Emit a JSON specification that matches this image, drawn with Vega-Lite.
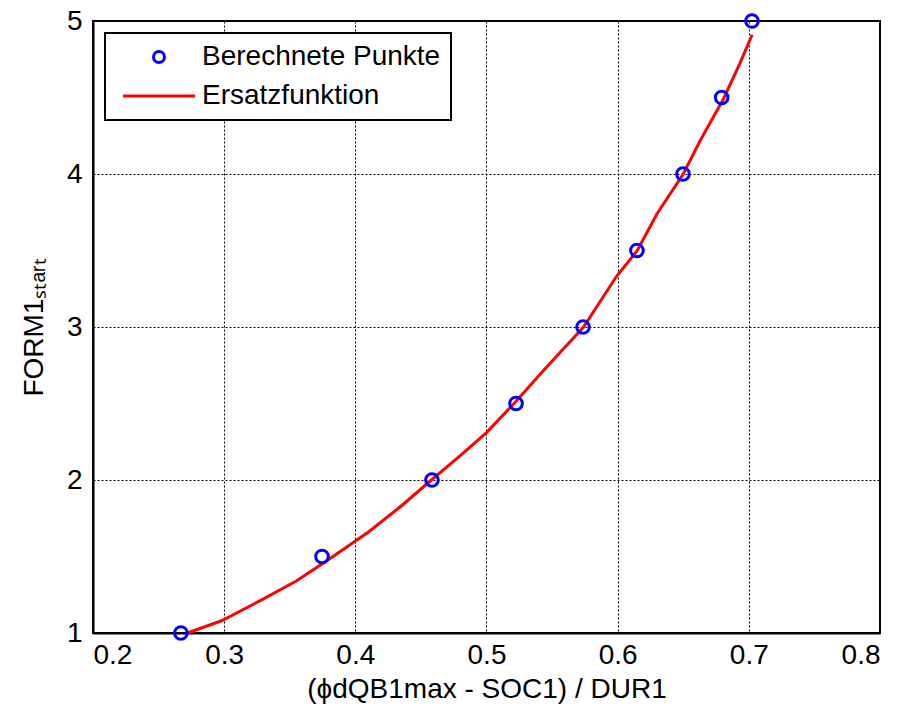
{
  "$schema": "https://vega.github.io/schema/vega-lite/v6.json",
  "width": 787,
  "height": 612,
  "autosize": {"type": "none"},
  "padding": {"left": 93, "top": 21, "right": 23, "bottom": 84},
  "background": "white",
  "config": {
    "font": "Liberation Sans",
    "view": {"stroke": "black", "strokeWidth": 2},
    "axis": {
      "labelFont": "Liberation Sans",
      "titleFont": "Liberation Sans",
      "labelFontSize": 28,
      "titleFontSize": 28,
      "titleFontWeight": "normal",
      "labelColor": "black",
      "titleColor": "black",
      "domainColor": "black",
      "domainWidth": 2,
      "grid": true,
      "gridColor": "black",
      "gridOpacity": 1,
      "gridDash": [2, 2],
      "gridWidth": 1,
      "ticks": false
    },
    "legend": {
      "labelFont": "Liberation Sans",
      "labelFontSize": 28,
      "labelColor": "black",
      "labelLimit": 500
    }
  },
  "datasets": {
    "punkte": [
      {"x": 0.267, "y": 1.0, "series": "Berechnete Punkte"},
      {"x": 0.3746, "y": 1.5, "series": "Berechnete Punkte"},
      {"x": 0.4584, "y": 2.0, "series": "Berechnete Punkte"},
      {"x": 0.5225, "y": 2.5, "series": "Berechnete Punkte"},
      {"x": 0.5736, "y": 3.0, "series": "Berechnete Punkte"},
      {"x": 0.6147, "y": 3.5, "series": "Berechnete Punkte"},
      {"x": 0.6498, "y": 4.0, "series": "Berechnete Punkte"},
      {"x": 0.6793, "y": 4.5, "series": "Berechnete Punkte"},
      {"x": 0.7024, "y": 5.0, "series": "Berechnete Punkte"}
    ],
    "kurve": [
      {"x": 0.272, "y": 1.0, "series": "Ersatzfunktion"},
      {"x": 0.298, "y": 1.08, "series": "Ersatzfunktion"},
      {"x": 0.325, "y": 1.2, "series": "Ersatzfunktion"},
      {"x": 0.355, "y": 1.34, "series": "Ersatzfunktion"},
      {"x": 0.378, "y": 1.47, "series": "Ersatzfunktion"},
      {"x": 0.41, "y": 1.66, "series": "Ersatzfunktion"},
      {"x": 0.435, "y": 1.83, "series": "Ersatzfunktion"},
      {"x": 0.458, "y": 2.0, "series": "Ersatzfunktion"},
      {"x": 0.48, "y": 2.16, "series": "Ersatzfunktion"},
      {"x": 0.5, "y": 2.31, "series": "Ersatzfunktion"},
      {"x": 0.521, "y": 2.5, "series": "Ersatzfunktion"},
      {"x": 0.545, "y": 2.73, "series": "Ersatzfunktion"},
      {"x": 0.574, "y": 3.0, "series": "Ersatzfunktion"},
      {"x": 0.599, "y": 3.33, "series": "Ersatzfunktion"},
      {"x": 0.615, "y": 3.5, "series": "Ersatzfunktion"},
      {"x": 0.63, "y": 3.74, "series": "Ersatzfunktion"},
      {"x": 0.65, "y": 4.0, "series": "Ersatzfunktion"},
      {"x": 0.663, "y": 4.22, "series": "Ersatzfunktion"},
      {"x": 0.68, "y": 4.48, "series": "Ersatzfunktion"},
      {"x": 0.693, "y": 4.72, "series": "Ersatzfunktion"},
      {"x": 0.7025, "y": 4.91, "series": "Ersatzfunktion"}
    ]
  },
  "encoding": {
    "x": {
      "field": "x",
      "type": "quantitative",
      "scale": {"domain": [0.2, 0.8], "nice": false, "zero": false},
      "axis": {
        "values": [0.2, 0.3, 0.4, 0.5, 0.6, 0.7, 0.8],
        "format": ".1f",
        "labelPadding": 8,
        "title": "(ϕdQB1max - SOC1) / DUR1",
        "titlePadding": 6
      }
    },
    "y": {
      "field": "y",
      "type": "quantitative",
      "scale": {"domain": [1, 5], "nice": false, "zero": false},
      "axis": {
        "values": [1, 2, 3, 4, 5],
        "format": "d",
        "labelPadding": 11,
        "title": "FORM1ₛₜₐᵣₜ",
        "titlePadding": 18
      }
    },
    "color": {
      "field": "series",
      "type": "nominal",
      "scale": {"domain": ["Berechnete Punkte", "Ersatzfunktion"], "range": ["#0000ff", "#ff0000"]},
      "legend": {
        "title": null,
        "orient": "top-left",
        "offset": 12,
        "fillColor": "white",
        "strokeColor": "black",
        "padding": 10,
        "symbolSize": 400,
        "symbolOffset": 30,
        "labelOffset": 29,
        "rowPadding": 11,
        "symbolStrokeWidth": 3,
        "encode": {
          "symbols": {
            "update": {
              "shape": {"signal": "datum.value === 'Ersatzfunktion' ? 'stroke' : 'circle'"},
              "size": {"signal": "datum.value === 'Ersatzfunktion' ? 5184 : 120"},
              "fill": {"value": "transparent"},
              "strokeWidth": {"value": 3}
            }
          },
          "legend": {"update": {"strokeWidth": {"value": 2}}}
        }
      }
    }
  },
  "layer": [
    {
      "data": {"name": "kurve"},
      "mark": {"type": "line", "strokeWidth": 3, "clip": false}
    },
    {
      "data": {"name": "punkte"},
      "mark": {"type": "point", "shape": "circle", "filled": false, "size": 160, "strokeWidth": 3, "opacity": 1, "clip": false}
    }
  ]
}
